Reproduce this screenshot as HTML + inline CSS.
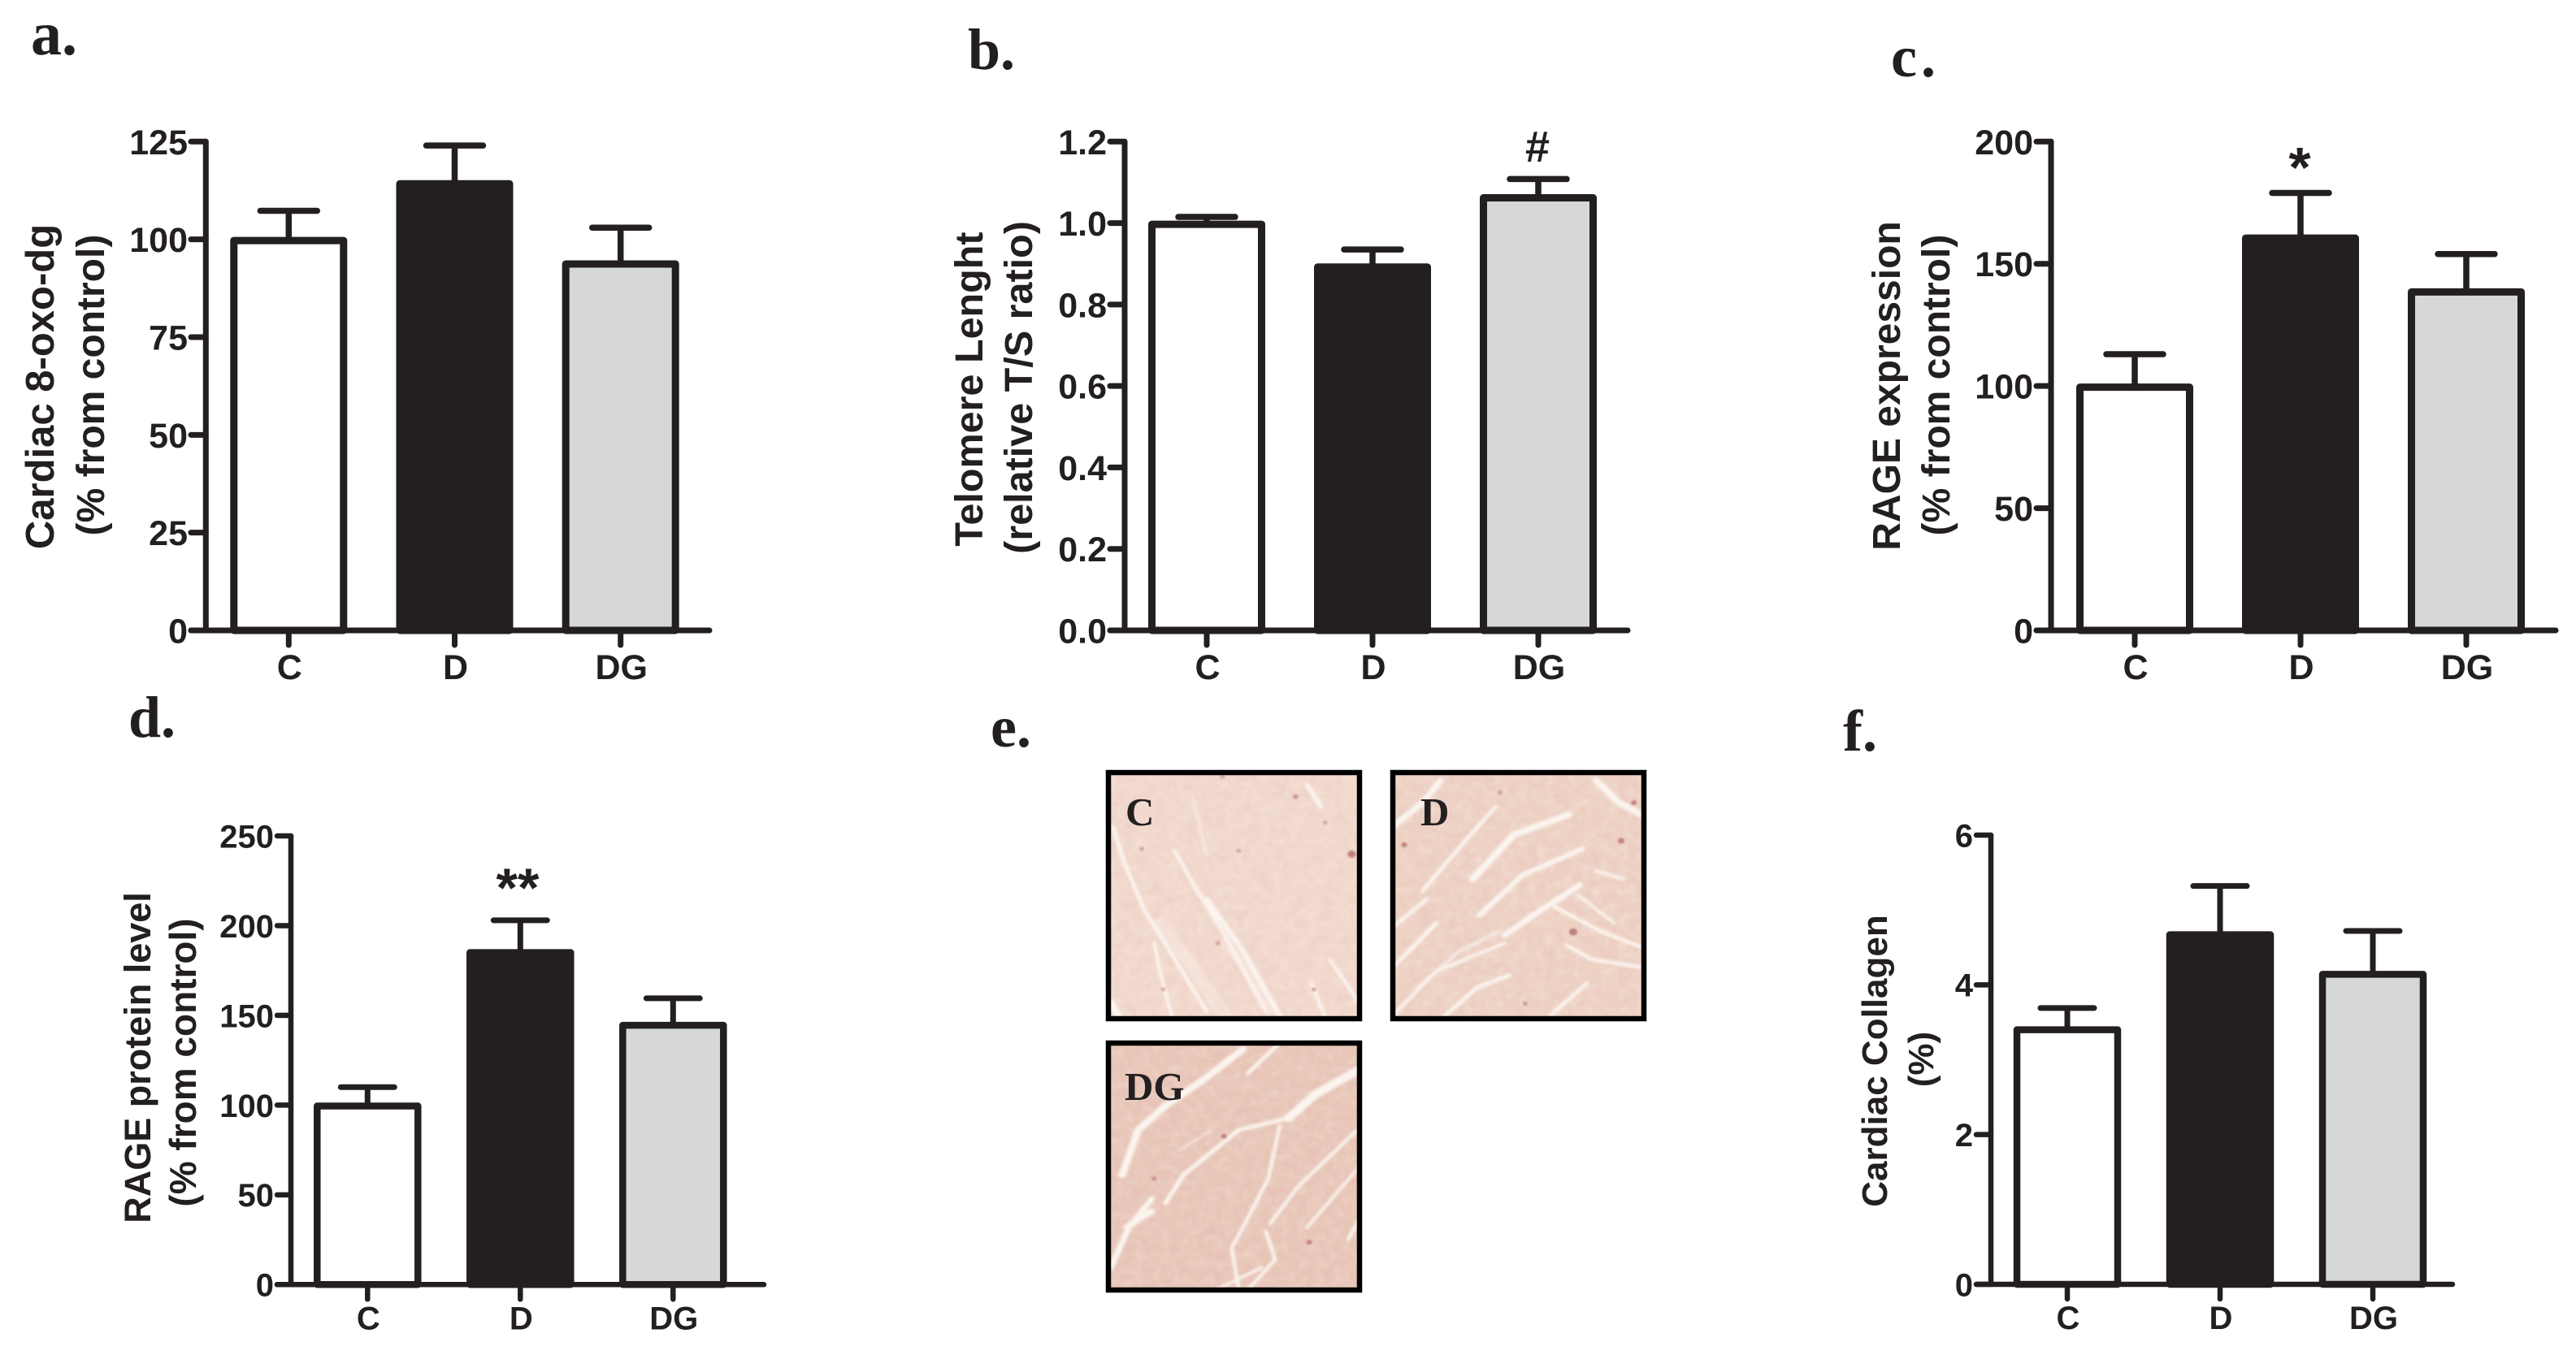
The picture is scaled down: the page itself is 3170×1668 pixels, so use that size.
<!DOCTYPE html>
<html lang="en">
<head>
<meta charset="utf-8">
<title>Cardiac markers panel figure</title>
<style>
html,body{margin:0;padding:0;background:#fff;width:3170px;height:1668px;overflow:hidden}
#figure{position:absolute;left:0;top:0;display:block}
text{font-family:"Liberation Sans",sans-serif;font-weight:bold;fill:#231f20}
.plabel{font-family:"Liberation Serif",serif;font-weight:bold;font-size:72px}
.mlabel{font-family:"Liberation Serif",serif;font-weight:bold;font-size:49px}
.st{fill:none;stroke:#fbf4ef;stroke-linecap:round;stroke-linejoin:round}
.dot{fill:#c07f80}
</style>
</head>
<body>
<svg id="figure" xmlns="http://www.w3.org/2000/svg" width="3170" height="1668" viewBox="0 0 3170 1668">
  <defs>
    <filter id="mottle" x="0" y="0" width="100%" height="100%">
      <feTurbulence type="fractalNoise" baseFrequency="0.03" numOctaves="4" seed="4"/>
      <feColorMatrix values="0 0 0 0 0.78  0 0 0 0 0.50  0 0 0 0 0.47  0 0 0 1.6 -0.6"/>
    </filter>
    <filter id="mottleLight" x="0" y="0" width="100%" height="100%">
      <feTurbulence type="fractalNoise" baseFrequency="0.05" numOctaves="3" seed="11"/>
      <feColorMatrix values="0 0 0 0 0.95  0 0 0 0 0.90  0 0 0 0 0.85  0 0 0 1.6 -0.6"/>
    </filter>
    <filter id="soft" x="-5%" y="-5%" width="110%" height="110%"><feGaussianBlur stdDeviation="3"/></filter>
    <filter id="softDot" x="-5%" y="-5%" width="110%" height="110%"><feGaussianBlur stdDeviation="2"/></filter>
  </defs>
  <rect x="0" y="0" width="3170" height="1668" fill="#fff"/>

  <text class="plabel" x="38" y="67" font-size="76" style="font-size:76px">a.</text>
  <text class="plabel" x="1191" y="85">b.</text>
  <text class="plabel" x="2327" y="94" style="letter-spacing:5px">c.</text>
  <text class="plabel" x="158" y="907">d.</text>
  <text class="plabel" x="1219" y="919">e.</text>
  <text class="plabel" x="2268" y="924">f.</text>

  <g id="charts"></g>

  <g>
    <svg x="1364" y="951" width="309" height="303" viewBox="305 195 550 613" preserveAspectRatio="none">
      <rect x="305" y="195" width="550" height="613" fill="#f1d8cc"/>
      <rect x="305" y="195" width="550" height="613" filter="url(#mottle)" opacity="0.3"/>
      <rect x="305" y="195" width="550" height="613" filter="url(#mottleLight)" opacity="0.35"/>
      <g filter="url(#soft)">
        <path class="st" stroke-width="9" d="M315 330 L340 420 L385 540 L440 640 L520 790"/>
        <path class="st" stroke-width="9" d="M450 390 L500 490 L560 600 L650 790"/>
        <path class="st" stroke-width="6" opacity=".6" d="M490 260 L520 400"/>
        <path class="st" stroke-width="12" d="M520 510 L600 640 L680 800"/>
        <path class="st" stroke-width="8" d="M405 620 L420 700 L445 805"/>
        <path class="st" stroke-width="8" d="M790 660 L855 770"/>
        <path class="st" stroke-width="9" d="M750 720 L780 805"/>
        <path class="st" stroke-width="11" d="M740 225 L770 280"/>
        <path class="st" stroke-width="16" d="M305 760 L330 805"/>
        <path class="st" stroke-width="30" opacity=".35" d="M420 570 L490 680 L560 800"/>
        <path class="st" stroke-width="22" opacity=".35" d="M560 620 L620 700 L660 790"/>
      </g>
      <g filter="url(#softDot)">
        <circle class="dot" cx="838" cy="398" r="9"/>
        <circle class="dot" cx="715" cy="255" r="6" opacity=".7"/><circle class="dot" cx="378" cy="385" r="5" opacity=".6"/>
        <circle class="dot" cx="590" cy="390" r="5" opacity=".6"/><circle class="dot" cx="755" cy="735" r="5" opacity=".7"/>
        <circle class="dot" cx="425" cy="735" r="5" opacity=".6"/><circle class="dot" cx="545" cy="620" r="5" opacity=".6"/>
        <circle class="dot" cx="555" cy="205" r="5" opacity=".6"/><circle class="dot" cx="780" cy="320" r="5" opacity=".6"/>
      </g>
    </svg>
    <rect x="1364" y="951" width="309" height="303" fill="none" stroke="#000" stroke-width="6.5"/>
    <text class="mlabel" x="1385" y="1016">C</text>
  </g>

  <g>
    <svg x="1714" y="951" width="309" height="303" viewBox="945 195 550 613" preserveAspectRatio="none">
      <rect x="945" y="195" width="550" height="613" fill="#edd1c3"/>
      <rect x="945" y="195" width="550" height="613" filter="url(#mottle)" opacity="0.35"/>
      <rect x="945" y="195" width="550" height="613" filter="url(#mottleLight)" opacity="0.35"/>
      <g filter="url(#soft)">
        <path class="st" stroke-width="14" d="M945 330 L1010 270 L1050 215"/>
        <path class="st" stroke-width="9" d="M1010 490 L1100 370 L1170 280"/>
        <path class="st" stroke-width="16" d="M1120 460 L1210 350 L1330 300"/>
        <path class="st" stroke-width="12" d="M1135 550 L1230 450 L1360 385"/>
        <path class="st" stroke-width="9" d="M945 580 L1020 510"/>
        <path class="st" stroke-width="10" d="M945 680 L1040 570"/>
        <path class="st" stroke-width="14" d="M1190 600 L1260 545 L1355 475"/>
        <path class="st" stroke-width="9" d="M1300 530 L1400 590 L1490 630"/>
        <path class="st" stroke-width="7" d="M1350 500 L1430 570"/>
        <path class="st" stroke-width="9" d="M1325 625 L1380 660 L1490 680"/>
        <path class="st" stroke-width="10" d="M1060 800 L1130 730 L1200 700"/>
        <path class="st" stroke-width="8" d="M945 800 L1040 690 L1190 620"/>
        <path class="st" stroke-width="9" d="M1290 800 L1370 720"/>
        <path class="st" stroke-width="16" d="M1390 215 L1440 270 L1490 300"/>
        <path class="st" stroke-width="8" d="M1390 440 L1450 460"/>
        <path class="st" stroke-width="8" opacity=".7" d="M1000 730 L1090 640 L1180 590"/>
      </g>
      <g filter="url(#softDot)">
        <circle class="dot" cx="1340" cy="592" r="9"/><circle class="dot" cx="1445" cy="365" r="7"/>
        <circle class="dot" cx="1473" cy="270" r="6"/><circle class="dot" cx="970" cy="375" r="6"/>
        <circle class="dot" cx="1180" cy="245" r="5" opacity=".7"/><circle class="dot" cx="1235" cy="770" r="5" opacity=".7"/>
      </g>
    </svg>
    <rect x="1714" y="951" width="309" height="303" fill="none" stroke="#000" stroke-width="6.5"/>
    <text class="mlabel" x="1748" y="1016">D</text>
  </g>

  <g>
    <svg x="1364" y="1284" width="309" height="304" viewBox="305 885 550 610" preserveAspectRatio="none">
      <rect x="305" y="885" width="550" height="610" fill="#e8c6b7"/>
      <rect x="305" y="885" width="550" height="610" filter="url(#mottle)" opacity="0.5"/>
      <rect x="305" y="885" width="550" height="610" filter="url(#mottleLight)" opacity="0.3"/>
      <g filter="url(#soft)">
        <path class="st" stroke-width="16" d="M335 1210 L370 1100 L430 1040 L520 970 L600 900"/>
        <path class="st" stroke-width="9" d="M610 960 L680 885"/>
        <path class="st" stroke-width="10" d="M430 1280 L470 1210 L590 1100 L700 1070"/>
        <path class="st" stroke-width="20" d="M700 1070 L760 1010 L855 950"/>
        <path class="st" stroke-width="8" d="M680 1090 L655 1220 L600 1340 L575 1390 L590 1490"/>
        <path class="st" stroke-width="13" d="M310 1440 L350 1340 L400 1270"/>
        <path class="st" stroke-width="14" d="M345 1340 L400 1300"/>
        <path class="st" stroke-width="8" d="M660 1330 L720 1240 L850 1100"/>
        <path class="st" stroke-width="8" d="M650 1350 L670 1420 L610 1495"/>
        <path class="st" stroke-width="7" d="M740 1340 L855 1190"/>
        <path class="st" stroke-width="7" d="M540 1495 L640 1440"/>
        <path class="st" stroke-width="8" d="M830 1370 L855 1320"/>
        <path class="st" stroke-width="6" opacity=".6" d="M460 1150 L530 1100"/>
      </g>
      <g filter="url(#softDot)">
        <circle class="dot" cx="745" cy="1377" r="6"/><circle class="dot" cx="558" cy="1115" r="6"/>
        <circle class="dot" cx="405" cy="1220" r="6" opacity=".7"/>
      </g>
    </svg>
    <rect x="1364" y="1284" width="309" height="304" fill="none" stroke="#000" stroke-width="6.5"/>
    <text class="mlabel" x="1384" y="1354">DG</text>
  </g>
</svg>

<script>
const categories = ['C', 'D', 'DG'];

const aMeans = [99.7, 114.2, 93.7];
const aUpper = [107.3, 124, 103];
const aTicks = [0, 25, 50, 75, 100, 125];
const aTickLabels = ['0', '25', '50', '75', '100', '125'];

const bMeans = [0.997, 0.892, 1.062];
const bUpper = [1.015, 0.935, 1.108];
const bTicks = [0, 0.2, 0.4, 0.6, 0.8, 1.0, 1.2];
const bTickLabels = ['0.0', '0.2', '0.4', '0.6', '0.8', '1.0', '1.2'];

const cMeans = [99.5, 160.5, 138.5];
const cUpper = [113, 179, 154];
const cTicks = [0, 50, 100, 150, 200];
const cTickLabels = ['0', '50', '100', '150', '200'];

const dMeans = [99.5, 185, 144.5];
const dUpper = [110, 203, 159.5];
const dTicks = [0, 50, 100, 150, 200, 250];
const dTickLabels = ['0', '50', '100', '150', '200', '250'];

const fMeans = [3.4, 4.67, 4.14];
const fUpper = [3.69, 5.32, 4.72];
const fTicks = [0, 2, 4, 6];
const fTickLabels = ['0', '2', '4', '6'];

const INK = '#231f20';
const FILLS = { C: '#ffffff', D: '#231f20', DG: '#d6d7d9' };
const SVGNS = 'http://www.w3.org/2000/svg';
const chartsRoot = document.getElementById('charts');

function add(parent, tag, attrs, text) {
  const el = document.createElementNS(SVGNS, tag);
  for (const k in attrs) el.setAttribute(k, attrs[k]);
  if (text !== undefined) el.textContent = text;
  parent.appendChild(el);
  return el;
}

function drawPanel(p) {
  const g = add(chartsRoot, 'g', {});
  
  

  const yMax = p.ticks[p.ticks.length - 1];
  const yScale = v => p.base - (v / yMax) * (p.base - p.top);
  const xScale = i => p.xStart + i * p.xStep;
  const lineStyle = { stroke: INK, 'stroke-width': p.axisW, 'stroke-linecap': 'round', fill: 'none' };

  // bars and error bars
  categories.forEach((cat, i) => {
    const cx = xScale(i);
    const yMean = yScale(p.means[i]);
    const yUp = yScale(p.upper[i]);

    const stem = add(g, 'line', Object.assign({}, lineStyle, { x1: cx, x2: cx, y1: yMean, y2: yUp, 'stroke-width': p.axisW + 0.5, 'stroke-linecap': 'butt' }));
    
    

    const cap = add(g, 'line', Object.assign({}, lineStyle, { x1: cx - p.capHalf, x2: cx + p.capHalf, y1: yUp, y2: yUp, 'stroke-width': p.axisW + 0.5 }));
    
    

    const bar = add(g, 'rect', {
      x: cx - p.barW / 2, y: yMean, width: p.barW, height: p.base - yMean,
      fill: FILLS[cat], stroke: INK, 'stroke-width': p.barStroke, 'stroke-linejoin': 'round'
    });
    
    

    const xTick = add(g, 'line', Object.assign({}, lineStyle, { x1: cx, x2: cx, y1: p.base, y2: p.base + 18 }));
    
    

    const xLabel = add(g, 'text', { x: cx + 1, y: p.base + p.xLabelDy, 'text-anchor': 'middle', 'font-size': p.tickFont }, cat);
    
    
  });

  // y axis and ticks
  const yAxis = add(g, 'line', Object.assign({}, lineStyle, { x1: p.axisX, x2: p.axisX, y1: p.top, y2: p.base }));
  
  

  const xAxis = add(g, 'line', Object.assign({}, lineStyle, { x1: p.tickX, x2: p.xEnd, y1: p.base, y2: p.base }));
  
  

  p.ticks.forEach((t, i) => {
    const y = yScale(t);
    const tick = add(g, 'line', Object.assign({}, lineStyle, { x1: p.tickX, x2: p.axisX, y1: y, y2: y }));
    
    

    const label = add(g, 'text', { x: p.tickX - 4, y: y + p.tickFont * 0.36, 'text-anchor': 'end', 'font-size': p.tickFont }, p.tickLabels[i]);
    
    
  });

  // y axis titles
  p.titles.forEach((tt, i) => {
    const title = add(g, 'text', {
      x: 0, y: 0, 'text-anchor': 'middle', 'font-size': tt.size,
      transform: 'translate(' + tt.x + ' ' + tt.y + ') rotate(-90)'
    }, tt.text);
    
    
  });

  // significance mark
  if (p.mark) {
    const mark = add(g, 'text', { x: p.mark.x, y: p.mark.y, 'text-anchor': 'middle', 'font-size': p.mark.size }, p.mark.text);
    
    
  }
}

drawPanel({
  id: 'a', means: aMeans, upper: aUpper, ticks: aTicks, tickLabels: aTickLabels,
  axisX: 253.3, tickX: 235, xEnd: 873, top: 174.3, base: 776,
  xStart: 355.3, xStep: 204.2, barW: 135, barStroke: 9, axisW: 7, capHalf: 35,
  tickFont: 43, xLabelDy: 60,
  titles: [{ text: 'Cardiac 8-oxo-dg', x: 66, y: 476, size: 49 }, { text: '(% from control)', x: 128, y: 474, size: 48 }]
});
drawPanel({
  id: 'b', means: bMeans, upper: bUpper, ticks: bTicks, tickLabels: bTickLabels,
  axisX: 1384, tickX: 1366, xEnd: 2003, top: 174.3, base: 776,
  xStart: 1485, xStep: 204, barW: 135, barStroke: 9, axisW: 7, capHalf: 35,
  tickFont: 43, xLabelDy: 60,
  titles: [{ text: 'Telomere Lenght', x: 1209, y: 479, size: 48.5 }, { text: '(relative T/S ratio)', x: 1270, y: 477, size: 48.5 }],
  mark: { text: '#', x: 1892, y: 199, size: 54 }
});
drawPanel({
  id: 'c', means: cMeans, upper: cUpper, ticks: cTicks, tickLabels: cTickLabels,
  axisX: 2524, tickX: 2506, xEnd: 3145, top: 174.3, base: 776,
  xStart: 2627, xStep: 204, barW: 135, barStroke: 9, axisW: 7, capHalf: 35,
  tickFont: 43, xLabelDy: 60,
  titles: [{ text: 'RAGE expression', x: 2338, y: 475, size: 48 }, { text: '(% from control)', x: 2399, y: 474, size: 48 }],
  mark: { text: '*', x: 2830, y: 230, size: 70 }
});
drawPanel({
  id: 'd', means: dMeans, upper: dUpper, ticks: dTicks, tickLabels: dTickLabels,
  axisX: 358, tickX: 341, xEnd: 940, top: 1029, base: 1581.3,
  xStart: 452.3, xStep: 188, barW: 124, barStroke: 8.5, axisW: 6.5, capHalf: 33,
  tickFont: 40, xLabelDy: 55,
  titles: [{ text: 'RAGE protein level', x: 185, y: 1302, size: 45 }, { text: '(% from control)', x: 241, y: 1308, size: 46 }],
  mark: { text: '**', x: 637, y: 1116, size: 68 }
});
drawPanel({
  id: 'f', means: fMeans, upper: fUpper, ticks: fTicks, tickLabels: fTickLabels,
  axisX: 2450, tickX: 2432, xEnd: 3018, top: 1028, base: 1581,
  xStart: 2544, xStep: 188, barW: 124, barStroke: 8.5, axisW: 6.5, capHalf: 33,
  tickFont: 40, xLabelDy: 55,
  titles: [{ text: 'Cardiac Collagen', x: 2322, y: 1306, size: 44 }, { text: '(%)', x: 2379, y: 1304, size: 44 }]
});
</script>
</body>
</html>
